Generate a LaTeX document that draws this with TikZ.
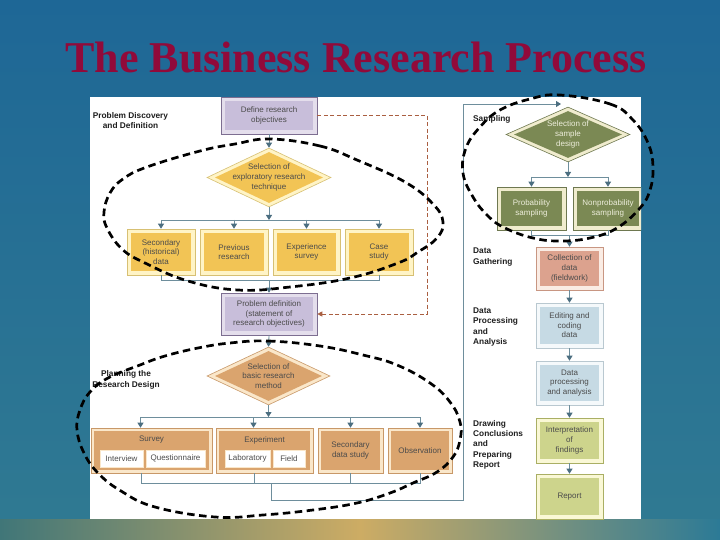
\documentclass[tikz,border=0pt]{standalone}
\usepackage{fontspec}
\setmainfont{Liberation Sans}
\newfontfamily\titlefont{Liberation Serif}
\usetikzlibrary{arrows.meta,shapes.geometric,calc}
\newcommand\boxfnt{\fontsize{8}{9.6}\selectfont}
\newcommand\labfnt{\bfseries\fontsize{8.3}{10.3}\selectfont}
\definecolor{bgtop}{RGB}{30,103,150}
\definecolor{bgbot}{RGB}{48,122,146}
\definecolor{stripL}{RGB}{64,118,120}
\definecolor{stripM}{RGB}{205,172,100}
\definecolor{stripR}{RGB}{44,122,150}
\definecolor{titlered}{RGB}{145,10,58}
\definecolor{linec}{RGB}{110,142,156}
\definecolor{tipc}{RGB}{75,110,128}
\definecolor{brnc}{RGB}{170,95,65}
\definecolor{txtc}{RGB}{75,75,75}
\definecolor{labc}{RGB}{30,30,30}
\definecolor{pE}{RGB}{125,110,145}\definecolor{pP}{RGB}{228,222,236}\definecolor{pI}{RGB}{200,190,218}
\definecolor{gE}{RGB}{215,192,115}\definecolor{gP}{RGB}{255,244,198}\definecolor{gI}{RGB}{242,196,85}
\definecolor{tE}{RGB}{200,152,104}\definecolor{tP}{RGB}{250,231,202}\definecolor{tI}{RGB}{218,164,110}
\definecolor{oE}{RGB}{110,120,80}\definecolor{oP}{RGB}{240,236,206}\definecolor{oI}{RGB}{123,137,84}
\definecolor{sE}{RGB}{200,150,130}\definecolor{sP}{RGB}{250,236,228}\definecolor{sI}{RGB}{220,162,142}
\definecolor{lE}{RGB}{185,200,208}\definecolor{lP}{RGB}{245,249,251}\definecolor{lI}{RGB}{198,218,228}
\definecolor{yE}{RGB}{170,175,100}\definecolor{yP}{RGB}{250,248,214}\definecolor{yI}{RGB}{205,212,140}
\definecolor{otxt}{RGB}{238,238,220}
\tikzset{
  rbox/.style n args={4}{rectangle, draw=#1, fill=#2, line width=0.6pt, inner sep=0pt,
    align=center, font=\boxfnt, text=txtc,
    path picture={\fill[#3] ([xshift=#4,yshift=-#4]path picture bounding box.north west)
      rectangle ([xshift=-#4,yshift=#4]path picture bounding box.south east);}},
  dbox/.style n args={4}{diamond, draw=#1, fill=#2, line width=0.6pt, inner xsep=-20pt, inner ysep=-10pt,
    align=center, font=\boxfnt, text=txtc,
    path picture={\fill[#3] ($(path picture bounding box.north)+(0,-#4)$)
      -- ($(path picture bounding box.east)+(-2*#4,0)$)
      -- ($(path picture bounding box.south)+(0,#4)$)
      -- ($(path picture bounding box.west)+(2*#4,0)$) -- cycle;}},
  wbox/.style={rectangle, draw=tP, fill=white, line width=0.5pt, inner sep=0pt, font=\boxfnt, text=txtc},
  ttl/.style={inner sep=0pt, font=\boxfnt, text=txtc},
  wire/.style={draw=linec, line width=0.8pt},
  arr/.style={-{Triangle[width=6pt,length=5pt,color=tipc]}},
  brn/.style={draw=brnc, line width=0.7pt, dash pattern=on 4pt off 2.5pt, -{Triangle[width=5pt,length=5pt]}},
  lab/.style={inner sep=0pt, font=\labfnt, text=labc},
  dloop/.style={draw=black, line width=2.7pt, dash pattern=on 7.5pt off 4.5pt}
}
\begin{document}
\begin{tikzpicture}[x=1pt,y=-1pt]
\useasboundingbox (0,0) rectangle (720,540);
% background
\shade[top color=bgtop, bottom color=bgbot] (0,0) rectangle (720,540);
\shade[left color=stripL, right color=stripM] (0,519) rectangle (360,540);
\shade[left color=stripM, right color=stripR] (360,519) rectangle (720,540);
\node[font=\titlefont\bfseries\fontsize{44}{44}\selectfont, text=titlered, inner sep=0pt] (title) at (356,58) {The Business Research Process};
% panel
\fill[white] (90,97) rectangle (641,519);
\begin{scope}
\clip (90,97) rectangle (641,519);
% left upper
\node[rbox={pE}{pP}{pI}{4pt}, minimum width=96pt, minimum height=37pt] (dr) at (269,115.5) {Define research\\objectives};
\node[dbox={gE}{gP}{gI}{4pt}, minimum width=124pt, minimum height=59pt] (ex) at (269,177.5) {Selection of\\exploratory research\\technique};
\node[rbox={gE}{gP}{gI}{4pt}, minimum width=68pt, minimum height=46pt] (b1) at (161,252) {Secondary\\(historical)\\data};
\node[rbox={gE}{gP}{gI}{4pt}, minimum width=68pt, minimum height=46pt] (b2) at (234,252) {Previous\\research};
\node[rbox={gE}{gP}{gI}{4pt}, minimum width=67pt, minimum height=46pt] (b3) at (306.5,252) {Experience\\survey};
\node[rbox={gE}{gP}{gI}{4pt}, minimum width=68pt, minimum height=46pt] (b4) at (379,252) {Case\\study};
\node[rbox={pE}{pP}{pI}{4pt}, minimum width=96pt, minimum height=42pt] (pd) at (269,314) {Problem definition\\(statement of\\research objectives)};
\node[dbox={tE}{tP}{tI}{4pt}, minimum width=123pt, minimum height=58pt] (bm) at (268.5,376) {Selection of\\basic research\\method};
% bottom boxes
\node[rbox={tE}{tP}{tI}{3pt}, minimum width=121pt, minimum height=45pt] (sv) at (151.5,450.5) {};
\node[ttl] (svt) at (151.5,440) {Survey};
\node[wbox, minimum width=43pt, minimum height=17pt] (iv) at (121.5,458.5) {Interview};
\node[wbox, minimum width=59pt, minimum height=17pt] (qu) at (175.5,458.5) {Questionnaire};
\node[rbox={tE}{tP}{tI}{3pt}, minimum width=97pt, minimum height=45pt] (xp) at (264.5,450.5) {};
\node[ttl] (xpt) at (264.5,440) {Experiment};
\node[wbox, minimum width=45pt, minimum height=17pt] (lb) at (247.5,458.5) {Laboratory};
\node[wbox, minimum width=32pt, minimum height=17pt] (fd) at (289,458.5) {Field};
\node[rbox={tE}{tP}{tI}{3pt}, minimum width=65pt, minimum height=45pt] (sec) at (350.5,450.5) {Secondary\\data study};
\node[rbox={tE}{tP}{tI}{3pt}, minimum width=64pt, minimum height=45pt] (ob) at (420,450.5) {Observation};
% right column
\node[dbox={oE}{oP}{oI}{4pt}, minimum width=124pt, minimum height=55pt, text=otxt] (sd) at (568,134.5) {Selection of\\sample\\design};
\node[rbox={oE}{oP}{oI}{4pt}, minimum width=69pt, minimum height=43pt, text=otxt] (pr) at (531.5,208.5) {Probability\\sampling};
\node[rbox={oE}{oP}{oI}{4pt}, minimum width=70pt, minimum height=43pt, text=otxt] (np) at (608,208.5) {Nonprobability\\sampling};
\node[rbox={sE}{sP}{sI}{4pt}, minimum width=67pt, minimum height=43pt] (col) at (569.5,268.5) {Collection of\\data\\(fieldwork)};
\node[rbox={lE}{lP}{lI}{4pt}, minimum width=67pt, minimum height=45pt] (ed) at (569.5,325.5) {Editing and\\coding\\data};
\node[rbox={lE}{lP}{lI}{4pt}, minimum width=67pt, minimum height=44pt] (dp) at (569.5,383) {Data\\processing\\and analysis};
\node[rbox={yE}{yP}{yI}{4pt}, minimum width=67pt, minimum height=45pt] (interp) at (569.5,440.5) {Interpretation\\of\\findings};
\node[rbox={yE}{yP}{yI}{4pt}, minimum width=67pt, minimum height=45pt] (rp) at (569.5,496.5) {Report};
% labels
\node[lab, align=center, anchor=north] (l1) at (130.5,112) {Problem Discovery\\and Definition};
\node[lab, align=center, anchor=north] (l2) at (126,370.5) {Planning the\\Research Design};
\node[lab, align=left, anchor=north west] (l3) at (473,115.5) {Sampling};
\node[lab, align=left, anchor=north west] (l4) at (473,248) {Data\\Gathering};
\node[lab, align=left, anchor=north west] (l5) at (473,307.5) {Data\\Processing\\and\\Analysis};
\node[lab, align=left, anchor=north west] (l6) at (473,420) {Drawing\\Conclusions\\and\\Preparing\\Report};
% connectors left upper
\draw[wire,arr] (dr.south) -- (ex.north);
\coordinate (f1) at (269,220);
\draw[wire,arr] (ex.south) -- (f1);
\draw[wire] (b1.north |- f1) -- (b4.north |- f1);
\foreach \b in {b1,b2,b3,b4} {\draw[wire,arr] (\b.north |- f1) -- (\b.north);}
\coordinate (g1) at (268,280);
\draw[wire] (b1.south) -- (b1.south |- g1) -- (b4.south |- g1) -- (b4.south);
\draw[wire,arr] (pd.north |- g1) -- (pd.north);
\draw[brn] (dr.east) -- ++(110,0) |- (pd.east);
\draw[wire,arr] (pd.south) -- (bm.north);
% connectors research design
\coordinate (f2) at (268.5,417);
\draw[wire,arr] (bm.south) -- (f2);
\coordinate (svp) at ($(sv.north)+(-11pt,0)$);
\coordinate (xpp) at ($(xp.north)+(-11pt,0)$);
\draw[wire] (svp |- f2) -- (ob.north |- f2);
\draw[wire,arr] (svp |- f2) -- (svp);
\draw[wire,arr] (xpp |- f2) -- (xpp);
\draw[wire,arr] (sec.north |- f2) -- (sec.north);
\draw[wire,arr] (ob.north |- f2) -- (ob.north);
\coordinate (h2) at (0,483);
\coordinate (svq) at ($(sv.south)+(-10pt,0)$);
\coordinate (xpq) at ($(xp.south)+(-10pt,0)$);
\draw[wire] (svq) -- (svq |- h2) -- (ob.south |- h2) -- (ob.south);
\draw[wire] (xpq) -- (xpq |- h2);
\draw[wire] (sec.south) -- (sec.south |- h2);
\coordinate (ret0) at (271,483);
\coordinate (ret1) at (463,500);
\coordinate (sdin) at (561,104);
\draw[wire,arr] (ret0) |- (ret1) |- (sdin);
% connectors right
\coordinate (f3) at (568,177);
\draw[wire,arr] (sd.south) -- (f3);
\draw[wire] (pr.north |- f3) -- (np.north |- f3);
\draw[wire,arr] (pr.north |- f3) -- (pr.north);
\draw[wire,arr] (np.north |- f3) -- (np.north);
\coordinate (g3) at (569.5,235);
\draw[wire] (pr.south) -- (pr.south |- g3) -- (np.south |- g3) -- (np.south);
\draw[wire,arr] (g3) -- (col.north);
\draw[wire,arr] (col.south) -- (ed.north);
\draw[wire,arr] (ed.south) -- (dp.north);
\draw[wire,arr] (dp.south) -- (interp.north);
\draw[wire,arr] (interp.south) -- (rp.north);
\end{scope}
% dashed loops
\draw[dloop] plot[smooth cycle, tension=0.7] coordinates {(270,139) (320,146) (357,160) (405,182) (433,204) (443,222) (437,238) (418,252) (398,263) (350,278) (290,287) (238,290) (188,281) (145,263) (122,249) (107,228) (104,212) (110,193) (123,179) (147,167) (200,151) (235,144)};
\draw[dloop] plot[smooth cycle, tension=0.7] coordinates {(230,343) (268,341) (320,346) (363,355) (397,365) (430,383) (450,402) (460,422) (460,440) (453,457) (437,472) (413,483) (390,493) (357,503) (313,510) (263,515) (215,517) (155,507) (121,491) (98,473) (84,453) (77,430) (80,410) (90,392) (108,378) (140,365) (165,356) (198,348)};
\draw[dloop] plot[smooth cycle, tension=0.7] coordinates {(560,95) (610,104) (633,120) (648,143) (653,167) (650,190) (640,208) (617,228) (590,238) (560,241) (533,238) (505,228) (488,216) (473,197) (463,173) (466,148) (480,127) (500,110) (530,99)};
\end{tikzpicture}
\end{document}
